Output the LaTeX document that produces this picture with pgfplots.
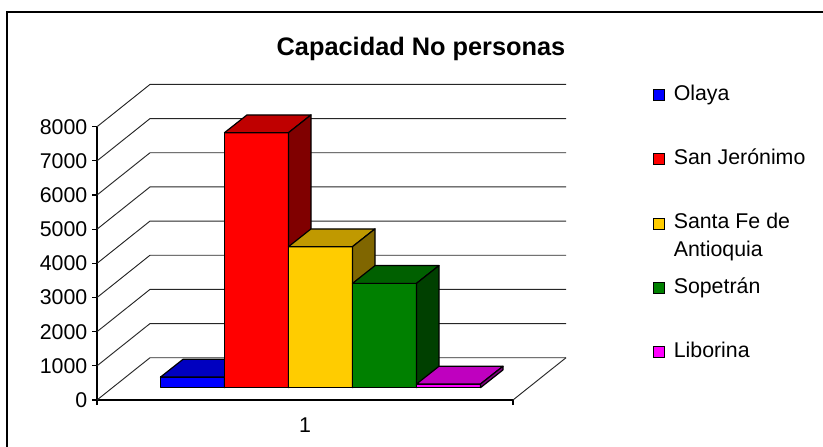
\documentclass[border=0pt]{standalone}
\usepackage{pgfplots}
\pgfplotsset{compat=1.18}
\usepackage{fontspec}
\setmainfont{Liberation Sans}

\definecolor{bluF}{RGB}{0,0,255}\definecolor{bluT}{RGB}{0,0,192}\definecolor{bluS}{RGB}{0,0,128}
\definecolor{redF}{RGB}{255,0,0}\definecolor{redT}{RGB}{191,0,0}\definecolor{redS}{RGB}{128,0,0}
\definecolor{yelF}{RGB}{255,204,0}\definecolor{yelT}{RGB}{192,153,0}\definecolor{yelS}{RGB}{128,102,0}
\definecolor{grnF}{RGB}{0,128,0}\definecolor{grnT}{RGB}{0,96,0}\definecolor{grnS}{RGB}{0,64,0}
\definecolor{magF}{RGB}{255,0,255}\definecolor{magT}{RGB}{191,0,191}\definecolor{magS}{RGB}{128,0,128}

\tikzset{barline/.style={draw=black,line width=0.9pt,line join=round},
  gridl/.style={draw=black!85,line width=0.7pt}}

% #1 left edge of front face, #2 value, #3 front colour, #4 top colour, #5 side colour
\newcommand{\tdbar}[5]{%
  \pgfmathsetmacro{\xa}{#1}%
  \pgfmathsetmacro{\xb}{#1+64}%
  \pgfmathsetmacro{\xc}{#1+22.5}%
  \pgfmathsetmacro{\xd}{#1+86.5}%
  \pgfmathsetmacro{\yb}{361+#2}%
  \pgfmathsetmacro{\yd}{881+#2}%
  \edef\tmp{%
  \noexpand\addplot[fill=#3,barline,forget plot] coordinates {(\xa,361) (\xb,361) (\xb,\yb) (\xa,\yb)} -- cycle;
  \noexpand\addplot[fill=#4,barline,forget plot] coordinates {(\xa,\yb) (\xb,\yb) (\xd,\yd) (\xc,\yd)} -- cycle;
  \noexpand\addplot[fill=#5,barline,forget plot] coordinates {(\xb,361) (\xd,881) (\xd,\yd) (\xb,\yb)} -- cycle;
  }\tmp}

\begin{document}
\begin{tikzpicture}
\useasboundingbox (0pt,0pt) rectangle (617.25pt,-334.5pt);
\draw[line width=0.9pt] (5.25pt,-340pt) -- (5.25pt,-9pt) -- (625pt,-9pt);
\node[anchor=base,font=\fontsize{19}{23}\selectfont\bfseries] at (315.75pt,-41.25pt) {Capacidad No personas};
\begin{axis}[
  at={(72.75pt,-300pt)}, anchor=south west,
  x=0.75pt, y=0.02562pt,
  xmin=0, xmax=416, ymin=0, ymax=8000,
  clip=false,
  axis lines=left,
  axis line style={-,line width=0.9pt},
  tick align=outside,
  major tick length=3.75pt,
  tick style={line width=0.9pt,black},
  ytick={0,1000,2000,3000,4000,5000,6000,7000,8000},
  yticklabels={0,1000,2000,3000,4000,5000,6000,7000,8000},
  xtick={0,416}, xticklabels={},
  extra x ticks={208}, extra x tick labels={1},
  extra x tick style={major tick length=0pt},
  xticklabel style={yshift=-9.75pt},
  tick label style={font=\fontsize{16}{19}\selectfont},
  /pgf/number format/assume math mode=true,
  legend image code/.code={\draw[#1,draw=black,line width=0.6pt] (0pt,0pt) rectangle (8.25pt,8.25pt);},
  legend cell align=left,
  legend style={at={(1.3357,1.1598)}, anchor=north west, draw=none, fill=none,
    inner sep=0pt, outer sep=0pt, row sep=31.7pt, column sep=5pt,
    cells={anchor=base west, inner sep=0pt},
    font=\fontsize{16}{19}\selectfont},
]
\pgfplotsinvokeforeach{0,1000,...,8000}{
  \draw[gridl] (axis cs:0,#1) -- (axis cs:53,{#1+1238}) -- (axis cs:469,{#1+1238});
}
\draw[gridl] (axis cs:416,0) -- (axis cs:469,1238);

\tdbar{63.5}{310}{bluF}{bluT}{bluS}
\tdbar{127.5}{7465}{redF}{redT}{redS}
\tdbar{191.5}{4128}{yelF}{yelT}{yelS}
\tdbar{255.5}{3054}{grnF}{grnT}{grnS}
\tdbar{319.5}{107}{magF}{magT}{magS}

\addlegendimage{fill=bluF}\addlegendentry{\raisebox{0pt}[11pt][0pt]{Olaya}}
\addlegendimage{fill=redF}\addlegendentry{\raisebox{0pt}[11pt][0pt]{San Jerónimo}}
\addlegendimage{fill=yelF}\addlegendentry{\raisebox{0pt}[11pt][0pt]{\begin{tabular}[t]{@{}l@{}}Santa Fe de\\[1.5pt]Antioquia\end{tabular}}}
\addlegendimage{fill=grnF}\addlegendentry{\raisebox{0pt}[11pt][0pt]{Sopetrán}}
\addlegendimage{fill=magF}\addlegendentry{\raisebox{0pt}[11pt][0pt]{Liborina}}
\end{axis}
\end{tikzpicture}
\end{document}
